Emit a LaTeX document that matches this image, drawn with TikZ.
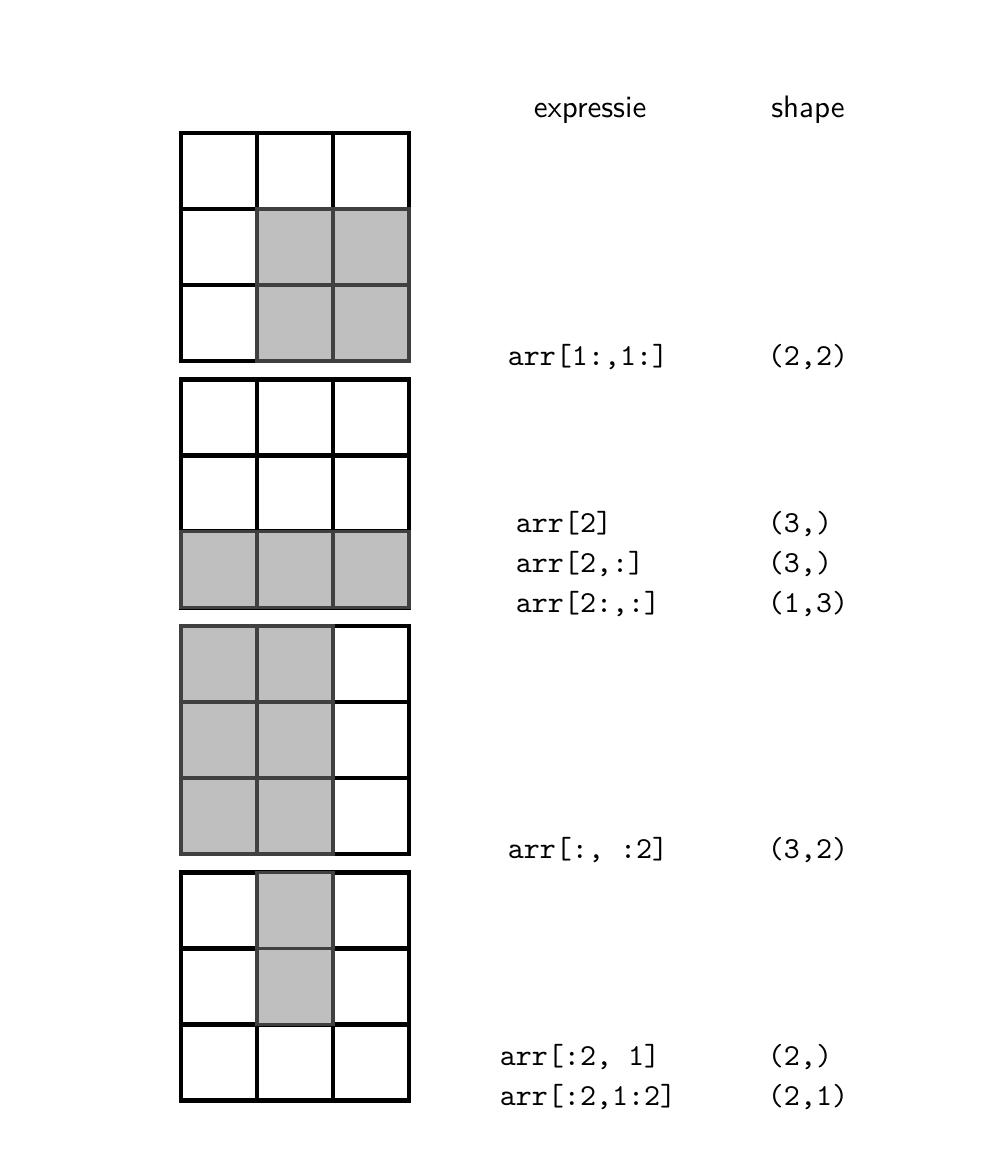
\documentclass[tikz,border=0pt]{standalone}
\usepackage{fontspec}
\definecolor{cellfill}{HTML}{BFBFBF}
\definecolor{celledge}{HTML}{404040}
\begin{document}
\begin{tikzpicture}[x=1pt,y=-1pt,
  cellw/.style={draw=black, line width=4.2pt, fill=white},
  cellg/.style={draw=celledge, line width=3.4pt, fill=cellfill},
  hdr/.style={scale=3.1, inner sep=0pt, anchor=base, font=\sffamily\fontsize{10}{12}\selectfont},
  expr/.style={scale=3.05, align=left, inner sep=0pt, anchor=base, font=\ttfamily\fontsize{10}{13.1}\selectfont}]
\useasboundingbox (0,0) rectangle (992,1164);
% grids
\foreach \g in {0,1,2,3}
  \foreach \r in {0,1,2}
    \foreach \c in {0,1,2}
      \draw[cellw] (181+76*\c, 133+246.5*\g+76*\r) rectangle ++(76,76);
% selected cells
\foreach \g/\r/\c in {0/1/1,0/1/2,0/2/1,0/2/2,
                      1/2/0,1/2/1,1/2/2,
                      2/0/0,2/0/1,2/1/0,2/1/1,2/2/0,2/2/1,
                      3/0/1,3/1/1}
  \filldraw[cellg] (181+76*\c, 133+246.5*\g+76*\r) rectangle ++(76,76);
% headers
\node[hdr] (hexpr) at (590,117.5) {expressie};
\node[hdr] (hshape) at (808,117.5) {shape};
% expressions (base anchor = baseline of the last line)
\node[expr] (e1) at (588,365.5) {arr[1:,1:]};
\node[expr] (s1) at (808,365.5) {(2,2)};
\node[expr] (e2) at (588,612) {arr[2]\\arr[2,:]\\arr[2:,:]};
\node[expr] (s2) at (808,612) {(3,)\\(3,)\\(1,3)};
\node[expr] (e3) at (588,858.5) {arr[:, :2]};
\node[expr] (s3) at (808,858.5) {(3,2)};
\node[expr] (e4) at (588,1105) {arr[:2, 1]\\arr[:2,1:2]};
\node[expr] (s4) at (808,1105) {(2,)\\(2,1)};
\end{tikzpicture}
\end{document}
